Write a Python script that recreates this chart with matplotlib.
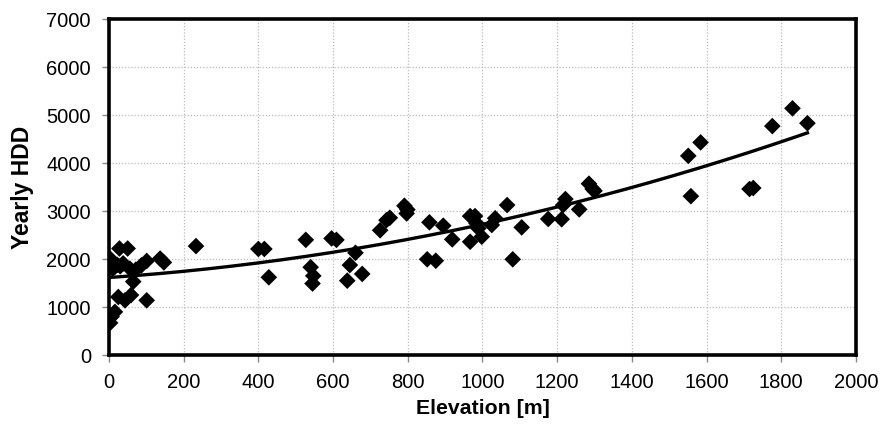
import numpy as np
import matplotlib
matplotlib.use("Agg")
import matplotlib.pyplot as plt

plt.rcParams['font.family'] = ['Liberation Sans', 'DejaVu Sans']

# Elevation [m] and yearly HDD of the stations
elevation = [0, 3, 28, 50, 16, 30, 38, 56, 72, 87, 101, 137, 147, 65, 25, 43, 59, 101,
             16, 7, 3, 10, 22, 233, 400, 416, 428,
             527, 540, 547, 545, 596, 609, 660, 645, 638, 678, 726, 743, 752, 791, 799, 797,
             858, 895, 919, 967, 980, 967, 984, 989, 998, 1025, 1034, 1066, 1105,
             852, 875, 1081,
             1176, 1212, 1216, 1222, 1259, 1285, 1295, 1300,
             1551, 1584, 1558, 1715, 1725, 1776, 1830, 1870]
hdd = [1830, 2010, 2220, 2220, 1840, 1850, 1910, 1800, 1780, 1870, 1960, 2010, 1930, 1530, 1210, 1140, 1250, 1140,
       900, 800, 670, 1800, 1880, 2270, 2210, 2210, 1620,
       2400, 1830, 1650, 1490, 2430, 2400, 2130, 1875, 1550, 1690, 2600, 2810, 2860, 3110, 3030, 2950,
       2765, 2695, 2410, 2895, 2895, 2360, 2745, 2640, 2465, 2710, 2850, 3125, 2660,
       1995, 1965, 1995,
       2835, 2830, 3125, 3250, 3035, 3570, 3460, 3420,
       4150, 4430, 3310, 3460, 3480, 4770, 5140, 4830]

x_ticks = [0, 200, 400, 600, 800, 1000, 1200, 1400, 1600, 1800, 2000]
y_ticks = [0, 1000, 2000, 3000, 4000, 5000, 6000, 7000]

fig = plt.figure(figsize=(8.83, 4.33), dpi=100)
ax = fig.add_axes([0.1234, 0.180, 0.8460, 0.776])

ax.scatter(elevation, hdd, marker='D', s=72, color='black', edgecolors='none', zorder=3)

# second-order polynomial trend line
coef = np.polyfit(elevation, hdd, 2)
xx = np.linspace(min(elevation), max(elevation), 200)
ax.plot(xx, np.polyval(coef, xx), color='black', lw=2.4, zorder=4)

ax.set_xlim(0, 2000)
ax.set_ylim(0, 7000)
ax.set_xticks(x_ticks)
ax.set_yticks(y_ticks)
ax.tick_params(axis='both', labelsize=14.5, direction='out', length=5, width=1,
               color='#888888', labelcolor='black', pad=8)
ax.grid(True, color='#bbbbbb', linestyle=(0, (1, 1.5)), linewidth=0.9)
ax.set_axisbelow(True)
for s in ax.spines.values():
    s.set_linewidth(2.6)
    s.set_color('black')

ax.set_xlabel('Elevation [m]', fontsize=15.3, fontweight='bold', labelpad=5)
ax.set_ylabel('Yearly HDD', fontsize=16.5, fontweight='bold', labelpad=9)

fig.savefig('out.png', dpi=100)
